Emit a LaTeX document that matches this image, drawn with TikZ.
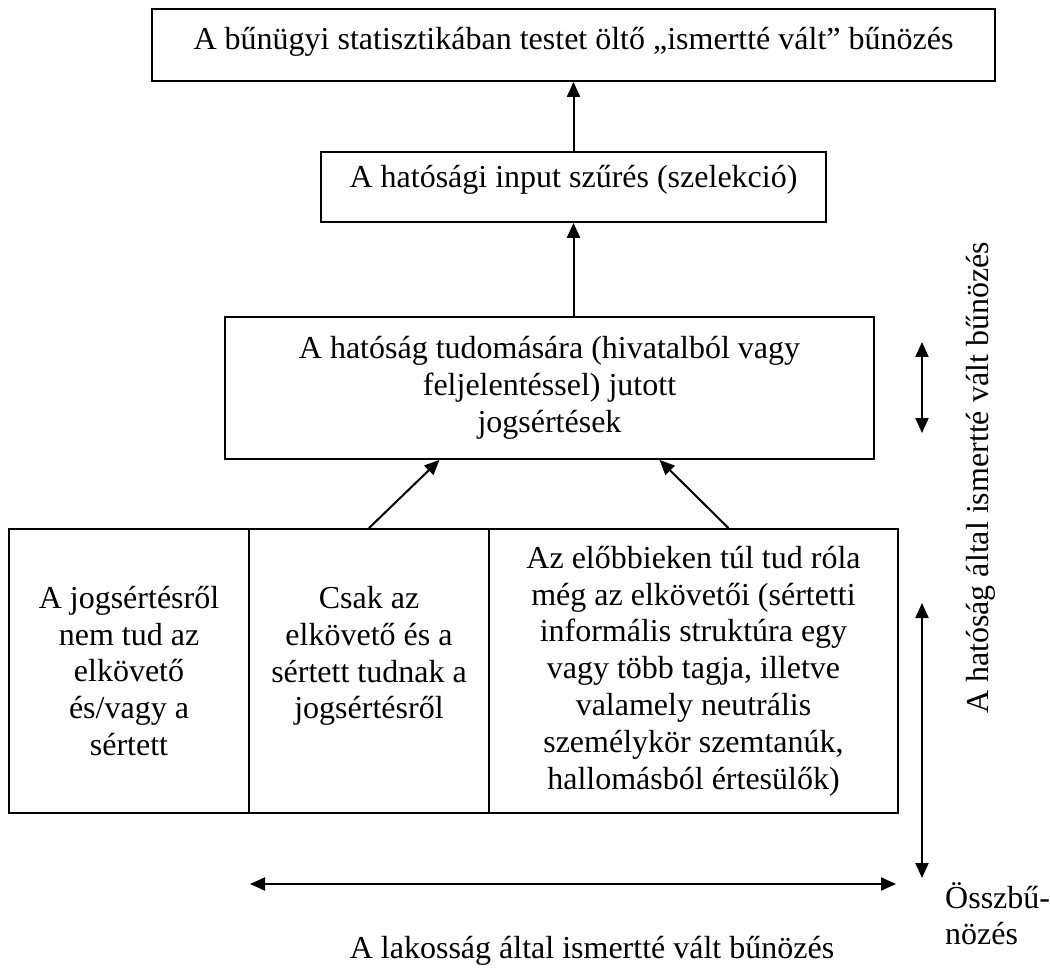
\documentclass[tikz,border=0pt]{standalone}
\usepackage{fontspec}
\setmainfont{Liberation Serif}
\usetikzlibrary{arrows.meta, positioning, calc}

\tikzset{
  box/.style={draw, line width=1.8pt, align=center, inner sep=0pt},
  arr/.style={-{Triangle[length=15pt,width=13pt]}, line width=2pt},
  dblarr/.style={{Triangle[length=15pt,width=13pt]}-{Triangle[length=15pt,width=13pt]}, line width=2pt}
}

\begin{document}
\begin{tikzpicture}[x=1pt, y=-1pt, font=\fontsize{32}{36.8}\selectfont]
  \useasboundingbox (0,0) rectangle (1050,968);

  % Upper chain of boxes
  \node[box, minimum width=843, minimum height=72, text height=22pt, text depth=13pt] (stat) at (573.5,45) {A bűnügyi statisztikában testet öltő „ismertté vált” bűnözés};
  \node[box, minimum width=505, minimum height=70, text height=22pt, text depth=20pt] (input) at (573.5,187) {A hatósági input szűrés (szelekció)};
  \node[box, minimum width=649, minimum height=142] (known) at (549.5,388) {A hatóság tudomására (hivatalból vagy\\feljelentéssel) jutott\\jogsértések};

  % Three cells at the bottom
  \node[box, minimum width=240, minimum height=284] (none) at (129,671) {A jogsértésről\\nem tud az\\elkövető\\és/vagy a\\sértett};
  \node[box, minimum width=240, minimum height=284] (pair) at (369,671) {Csak az\\elkövető és a\\sértett tudnak a\\jogsértésről\\\mbox{}};
  \node[box, minimum width=409, minimum height=284] (circle) at (693.5,671) {Az előbbieken túl tud róla\\még az elkövetői (sértetti\\informális struktúra egy\\vagy több tagja, illetve\\valamely neutrális\\személykör szemtanúk,\\hallomásból értesülők)};

  \draw[arr] (input.north) -- (stat.south);
  \draw[arr] (input.south |- known.north) -- (input.south);
  \draw[arr] (pair.north) -- ($(known.south)+(-110,0)$);
  \draw[arr] ($(circle.north)+(35,0)$) -- ($(known.south)+(110,0)$);

  % Ranges on the right and below
  \coordinate (k1) at (922,342);
  \coordinate (k2) at (922,433);
  \coordinate (t1) at (922,603);
  \coordinate (t2) at (922,878);
  \coordinate (l1) at (250,884);
  \coordinate (l2) at (896,884);
  \draw[dblarr] (k1) -- (k2);
  \draw[dblarr] (t1) -- (t2);
  \draw[dblarr] (l1) -- (l2);

  \node[rotate=90, anchor=base] (side) at (988,478) {A hatóság által ismertté vált bűnözés};
  \node[anchor=north west, align=left, inner sep=0pt] (total) at (945,882) {Összbű-\\nözés};
  \node[anchor=base] (public) at (592,958) {A lakosság által ismertté vált bűnözés};
\end{tikzpicture}
\end{document}
